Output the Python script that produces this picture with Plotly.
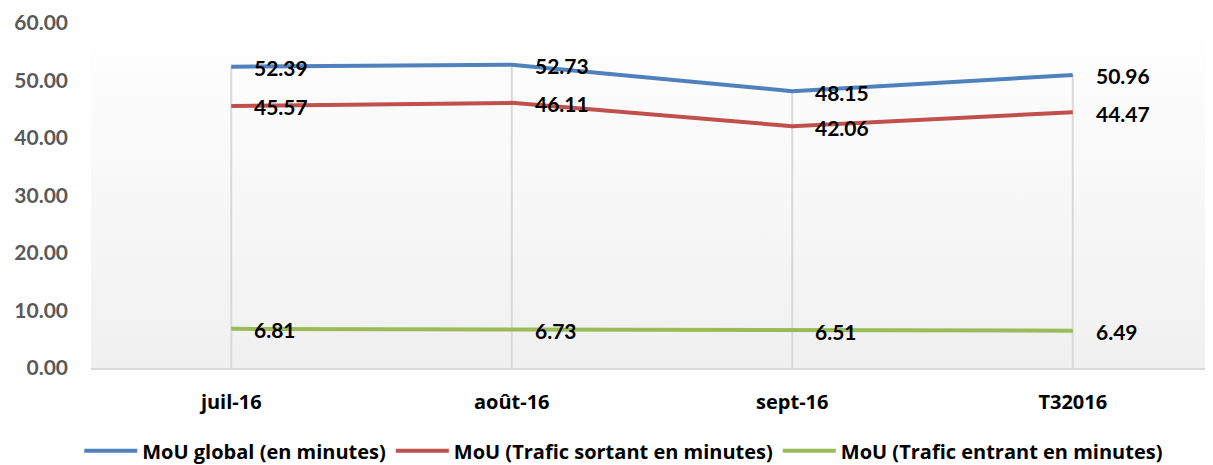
import plotly.graph_objects as go

categories = ["juil-16", "août-16", "sept-16", "T32016"]
mou_global = [52.39, 52.73, 48.15, 50.96]
mou_sortant = [45.57, 46.11, 42.06, 44.47]
mou_entrant = [6.81, 6.73, 6.51, 6.49]
series_names = ["MoU global (en minutes)", "MoU (Trafic sortant en minutes)", "MoU (Trafic entrant en minutes)"]
y_ticks = [0, 10, 20, 30, 40, 50, 60]

colors = ["#4F81BD", "#C0504D", "#9BBB59"]
series = [mou_global, mou_sortant, mou_entrant]
NUMFONT = "Lato"
TXTFONT = "Open Sans"

fig = go.Figure()

# drop lines from axis to highest point
xs, ys = [], []
for i, c in enumerate(categories):
    top = max(s[i] for s in series)
    xs += [c, c, None]
    ys += [0, top, None]
fig.add_trace(go.Scatter(x=xs, y=ys, mode="lines", line=dict(color="#D9D9D9", width=2),
                         showlegend=False, hoverinfo="skip"))

for name, vals, col in zip(series_names, series, colors):
    fig.add_trace(go.Scatter(x=categories, y=vals, mode="lines", name=name,
                             line=dict(color=col, width=4)))
    for c, v in zip(categories, vals):
        fig.add_annotation(x=c, y=v, text=f"{v:.2f}", showarrow=False, xanchor="left",
                           yanchor="middle", xshift=21, yshift=-1,
                           font=dict(family=NUMFONT, size=21, color="#000000", weight="bold"))

svg = ("data:image/svg+xml;utf8,<svg xmlns='http://www.w3.org/2000/svg' width='10' height='100' preserveAspectRatio='none'>"
       "<defs><linearGradient id='g' x1='0' y1='0' x2='0' y2='1'>"
       "<stop offset='0' stop-color='%23ffffff'/><stop offset='1' stop-color='%23f0f0f0'/></linearGradient></defs>"
       "<rect width='10' height='100' fill='url(%23g)'/></svg>")
fig.add_layout_image(source=svg, xref="paper", yref="paper", x=0, y=1, sizex=1, sizey=1,
                     sizing="stretch", xanchor="left", yanchor="top", layer="below")

# page body has an 8px default margin; figure sized/margined to compensate
fig.update_layout(
    width=1205, height=457,
    margin=dict(l=83, r=0, t=15, b=97, autoexpand=False),
    paper_bgcolor="white", plot_bgcolor="rgba(0,0,0,0)",
    font=dict(family=TXTFONT),
    legend=dict(orientation="h", xref="container", yref="paper", x=0.511, y=-0.24,
                xanchor="center", yanchor="middle", itemwidth=53,
                font=dict(family=TXTFONT, size=20, color="#000000", weight="bold")),
    showlegend=True,
)
fig.update_xaxes(type="category", range=[-0.5, len(categories) - 0.5], showgrid=False,
                 showline=True, linecolor="#D9D9D9", linewidth=2,
                 ticks="", ticklabelstandoff=15,
                 tickfont=dict(family=TXTFONT, size=20, color="#000000", weight="bold"))
fig.update_yaxes(range=[0, 60], tickvals=y_ticks, tickformat=".2f", showgrid=False, zeroline=False,
                 showline=False, ticks="", ticklabelstandoff=22,
                 tickfont=dict(family=NUMFONT, size=21, color="#595959", weight="bold"))

fig.write_html("out.html")
